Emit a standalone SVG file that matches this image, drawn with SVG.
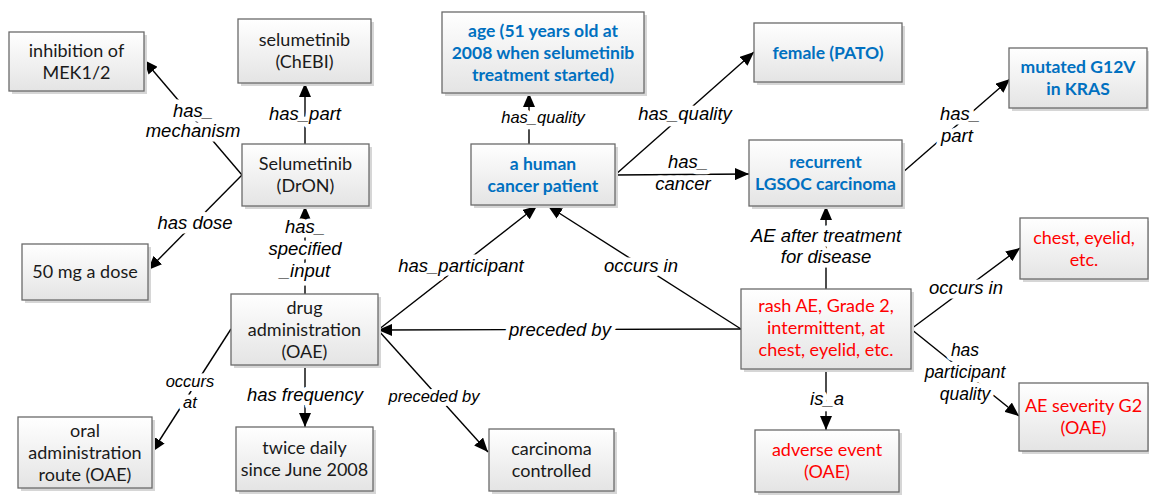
<svg xmlns="http://www.w3.org/2000/svg" width="1149" height="495" viewBox="0 0 1149 495">
<defs>
<linearGradient id="g" x1="0" y1="0" x2="0" y2="1">
<stop offset="0" stop-color="#ffffff"/>
<stop offset="1" stop-color="#e4e4e4"/>
</linearGradient>
<marker id="ah" markerUnits="userSpaceOnUse" markerWidth="14" markerHeight="12" viewBox="0 0 14 12" refX="14" refY="6" orient="auto">
<path d="M0,0 L14,6 L0,12 Z" fill="#000"/>
</marker>
<style>
.box{fill:url(#g);stroke:#6a6a6a;stroke-width:1.3}
.sh{fill:#d6d6d6}
.t{font-family:Lato,"Liberation Sans",sans-serif;font-size:18px;text-anchor:middle;fill:#1a1a1a}
.b{fill:#0070c0;font-weight:bold;font-size:17.5px}
.r{fill:#ff0000}
.e{stroke:#000;stroke-width:1.4;fill:none;marker-end:url(#ah)}
.l{font-family:"Liberation Sans",Arial,sans-serif;font-style:italic;font-size:18.5px;text-anchor:middle;fill:#000;stroke:#fff;stroke-width:9;stroke-linejoin:round;paint-order:stroke}
.s{font-size:16.5px}
.p{font-size:17.5px}
</style>
</defs>
<rect width="1149" height="495" fill="#fff"/>
<g id="connectors">
<path class="e" d="M242,175 L144,60"/>
<path class="e" d="M305,144 L305,83"/>
<path class="e" d="M242,175 L148,270"/>
<path class="e" d="M305,294 L305,206"/>
<path class="e" d="M305,365 L305,427"/>
<path class="e" d="M231,329 L152,452"/>
<path class="e" d="M378,330 L537,206"/>
<path class="e" d="M741,329 L378,330"/>
<path class="e" d="M378,330 L488,452"/>
<path class="e" d="M741,329 L548,206"/>
<path class="e" d="M529,144 L529,93"/>
<path class="e" d="M615,175 L754,52"/>
<path class="e" d="M615,175 L749,174"/>
<path class="e" d="M902,173 L1010,79"/>
<path class="e" d="M826,289 L826,206"/>
<path class="e" d="M826,369 L826,430"/>
<path class="e" d="M911,329 L1020,248"/>
<path class="e" d="M911,329 L1019,416"/>
<text class="l" x="193" y="117">has_</text>
<text class="l" x="193" y="137">mechanism</text>
<text class="l" x="305" y="120">has_part</text>
<text class="l" x="195" y="229">has dose</text>
<text class="l" x="305" y="233">has_</text>
<text class="l" x="305" y="255">specified</text>
<text class="l" x="305" y="277">_input</text>
<text class="l" x="305" y="401">has frequency</text>
<text class="l s" x="190" y="387">occurs</text>
<text class="l s" x="190" y="408">at</text>
<text class="l" x="461" y="272">has_participant</text>
<text class="l" x="641" y="272">occurs in</text>
<text class="l" x="560" y="336">preceded by</text>
<text class="l s" x="434" y="402">preceded by</text>
<text class="l s" x="543" y="123">has_quality</text>
<text class="l" x="685" y="120">has_quality</text>
<text class="l" x="688" y="168">has_</text>
<text class="l" x="683" y="190">cancer</text>
<text class="l" x="960" y="120">has_</text>
<text class="l" x="957" y="142">part</text>
<text class="l" x="826" y="242">AE after treatment</text>
<text class="l" x="826" y="263">for disease</text>
<text class="l" x="827" y="405">is_a</text>
<text class="l" x="966" y="294">occurs in</text>
<text class="l p" x="965" y="356">has</text>
<text class="l p" x="965" y="378">participant</text>
<text class="l p" x="965" y="400">quality</text>
</g>
<g id="n-inhibition">
<rect class="sh" x="12" y="35" width="135" height="59"/>
<rect class="box" x="9" y="32" width="135" height="59"/>
<text class="t" x="76.5" y="56.5">inhibition of</text>
<text class="t" x="76.5" y="78.5">MEK1/2</text>
</g>
<g id="n-chebi">
<rect class="sh" x="241" y="22" width="133" height="64"/>
<rect class="box" x="238" y="19" width="133" height="64"/>
<text class="t" x="304.5" y="46">selumetinib</text>
<text class="t" x="304.5" y="68">(ChEBI)</text>
</g>
<g id="n-dron">
<rect class="sh" x="245" y="147" width="127" height="62"/>
<rect class="box" x="242" y="144" width="127" height="62"/>
<text class="t" x="305.5" y="170">Selumetinib</text>
<text class="t" x="305.5" y="192">(DrON)</text>
</g>
<g id="n-dose">
<rect class="sh" x="25" y="247" width="126" height="56"/>
<rect class="box" x="22" y="244" width="126" height="56"/>
<text class="t" x="85" y="278">50 mg a dose</text>
</g>
<g id="n-drugadmin">
<rect class="sh" x="234" y="297" width="147" height="71"/>
<rect class="box" x="231" y="294" width="147" height="71"/>
<text class="t" x="304.5" y="313.5">drug</text>
<text class="t" x="304.5" y="335.5">administration</text>
<text class="t" x="304.5" y="357.5">(OAE)</text>
</g>
<g id="n-oral">
<rect class="sh" x="21" y="420" width="134" height="71"/>
<rect class="box" x="18" y="417" width="134" height="71"/>
<text class="t" x="85" y="436.5">oral</text>
<text class="t" x="85" y="458.5">administration</text>
<text class="t" x="85" y="480.5">route (OAE)</text>
</g>
<g id="n-twice">
<rect class="sh" x="239" y="430" width="137" height="64"/>
<rect class="box" x="236" y="427" width="137" height="64"/>
<text class="t" x="304.5" y="454">twice daily</text>
<text class="t" x="304.5" y="476">since June 2008</text>
</g>
<g id="n-controlled">
<rect class="sh" x="492" y="432" width="125" height="62"/>
<rect class="box" x="489" y="429" width="125" height="62"/>
<text class="t" x="551.5" y="455">carcinoma</text>
<text class="t" x="551.5" y="477">controlled</text>
</g>
<g id="n-age">
<rect class="sh" x="445" y="15" width="202" height="81"/>
<rect class="box" x="442" y="12" width="202" height="81"/>
<text class="t b" x="543" y="36.5">age (51 years old at</text>
<text class="t b" x="543" y="58.5">2008 when selumetinib</text>
<text class="t b" x="543" y="80.5">treatment started)</text>
</g>
<g id="n-patient">
<rect class="sh" x="474" y="147" width="144" height="61"/>
<rect class="box" x="471" y="144" width="144" height="61"/>
<text class="t b" x="543" y="169.5">a human</text>
<text class="t b" x="543" y="191.5">cancer patient</text>
</g>
<g id="n-female">
<rect class="sh" x="757" y="26" width="148" height="59"/>
<rect class="box" x="754" y="23" width="148" height="59"/>
<text class="t b" x="828" y="58.5">female (PATO)</text>
</g>
<g id="n-lgsoc">
<rect class="sh" x="752" y="143" width="153" height="66"/>
<rect class="box" x="749" y="140" width="153" height="66"/>
<text class="t b" x="825.5" y="168">recurrent</text>
<text class="t b" x="825.5" y="190">LGSOC carcinoma</text>
</g>
<g id="n-kras">
<rect class="sh" x="1012" y="51" width="138" height="60"/>
<rect class="box" x="1009" y="48" width="138" height="60"/>
<text class="t b" x="1078" y="73">mutated G12V</text>
<text class="t b" x="1078" y="95">in KRAS</text>
</g>
<g id="n-chest">
<rect class="sh" x="1023" y="221" width="128" height="61"/>
<rect class="box" x="1020" y="218" width="128" height="61"/>
<text class="t r" x="1084" y="243.5">chest, eyelid,</text>
<text class="t r" x="1084" y="265.5">etc.</text>
</g>
<g id="n-rash">
<rect class="sh" x="744" y="292" width="170" height="80"/>
<rect class="box" x="741" y="289" width="170" height="80"/>
<text class="t r" x="826" y="312">rash AE, Grade 2,</text>
<text class="t r" x="826" y="334">intermittent, at</text>
<text class="t r" x="826" y="356">chest, eyelid, etc.</text>
</g>
<g id="n-adverse">
<rect class="sh" x="758" y="433" width="144" height="62"/>
<rect class="box" x="755" y="430" width="144" height="62"/>
<text class="t r" x="827" y="456">adverse event</text>
<text class="t r" x="827" y="478">(OAE)</text>
</g>
<g id="n-severity">
<rect class="sh" x="1022" y="386" width="129" height="68"/>
<rect class="box" x="1019" y="383" width="129" height="68"/>
<text class="t r" x="1083.5" y="412">AE severity G2</text>
<text class="t r" x="1083.5" y="434">(OAE)</text>
</g>
</svg>
